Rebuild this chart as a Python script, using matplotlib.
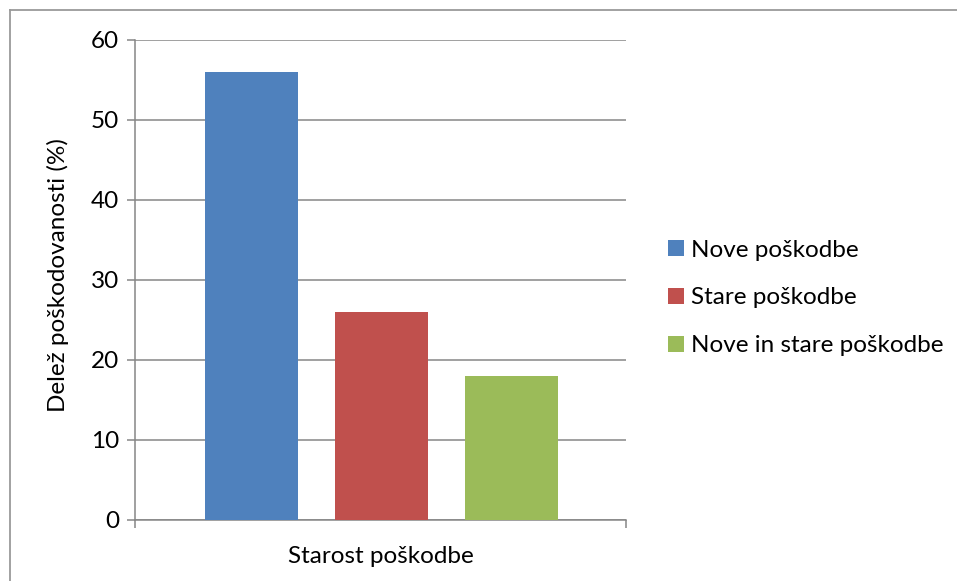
import matplotlib.pyplot as plt
from matplotlib.patches import Patch
from matplotlib.lines import Line2D

# data
series = ["Nove poškodbe", "Stare poškodbe", "Nove in stare poškodbe"]
values = [56, 26, 18]
colors = ["#4F81BD", "#C0504D", "#9BBB59"]
y_ticks = [0, 10, 20, 30, 40, 50, 60]
x_label = "Starost poškodbe"
y_label = "Delež poškodovanosti (%)"

plt.rcParams["font.family"] = ["Lato", "DejaVu Sans"]
GRID = "#868686"
FS = 17.5

fig = plt.figure(figsize=(9.57, 5.81), dpi=100)
ax = fig.add_axes([135 / 957, 61 / 581, 491 / 957, 480 / 581])

positions = list(range(len(values)))
ax.bar(positions, values, width=0.715, color=colors, zorder=3)

ax.set_xlim(-0.896, 2.88)
ax.set_ylim(0, 60)
ax.set_yticks(y_ticks)
ax.yaxis.grid(True, color=GRID, lw=1.1, zorder=0)
ax.set_xticks([-0.896, 2.88])
ax.set_xticklabels([])
ax.tick_params(axis="x", direction="out", length=6, color=GRID, width=1.1)
ax.tick_params(axis="y", direction="out", length=5.5, color=GRID, width=1.1,
               labelsize=FS, pad=6)
for s in ["top", "right"]:
    ax.spines[s].set_visible(False)
for s in ["left", "bottom"]:
    ax.spines[s].set_color(GRID)
    ax.spines[s].set_linewidth(1.1)

ax.set_xlabel(x_label, fontsize=FS, labelpad=9)
fig.text(58 / 957, 1 - 275 / 581, y_label, fontsize=FS, rotation=90,
         ha="center", va="center")

handles = [Patch(facecolor=c, edgecolor="none") for c in colors]
fig.legend(handles, series, loc="center left",
           bbox_to_anchor=(658 / 957, 1 - 298 / 581), frameon=False,
           fontsize=FS, handlelength=0.65, handleheight=0.65,
           handletextpad=0.3, labelspacing=1.1, borderaxespad=0)

# outer chart-area border (only top and left edges visible)
fig.add_artist(Line2D([10 / 957, 1], [1 - 10 / 581, 1 - 10 / 581],
                      transform=fig.transFigure, color="#9A9A9A", lw=1.3))
fig.add_artist(Line2D([10 / 957, 10 / 957], [0, 1 - 10 / 581],
                      transform=fig.transFigure, color="#9A9A9A", lw=1.3))

fig.savefig("out.png", dpi=100)
